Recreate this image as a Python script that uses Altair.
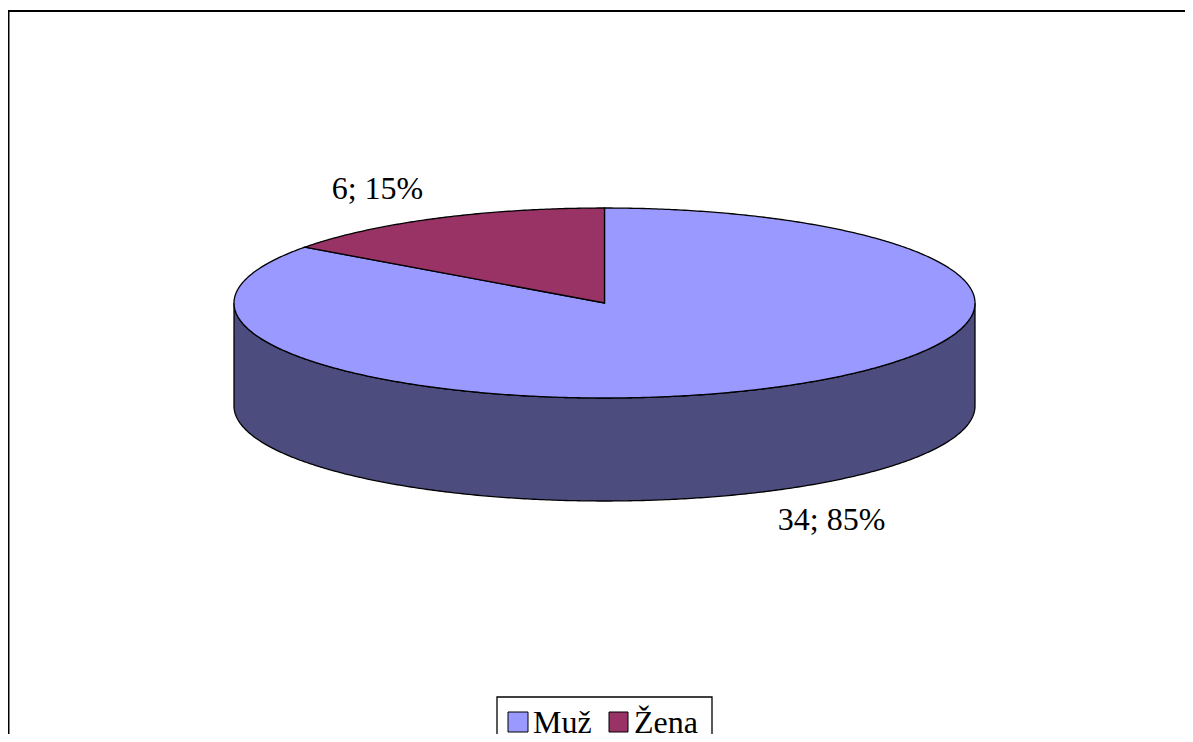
import numpy as np
import pandas as pd
import altair as alt

# ---- data ----
categories = ["Muž", "Žena"]
counts = [34, 6]
top_colors = ["#9999FF", "#993366"]
side_colors = ["#4C4C7F", "#4D1A33"]

# ---- layout (pixels in chart space) ----
W, H = 1177, 726
CX, CY, RX, RY, DEPTH = 596.5, 295.0, 370.5, 95.0, 103.0
LABEL_K = 1.35
FONT = "Liberation Serif"

total = sum(counts)


def ex(a, k=1.0):
    return CX + RX * k * np.sin(np.radians(a))


def ey(a, k=1.0):
    return CY - RY * k * np.cos(np.radians(a))


top_rows, side_rows, label_rows = [], [], []
start = 0.0
for cat, v, tc, sc in zip(categories, counts, top_colors, side_colors):
    sweep = v / total * 360.0
    a0, a1 = start, start + sweep
    angs = np.linspace(a0, a1, max(int(sweep * 2), 2) + 1)
    pts = [(CX, CY)] + [(ex(a), ey(a)) for a in angs]
    for j, (x, y) in enumerate(pts):
        top_rows.append({"cat": cat, "order": j, "x": x, "y": y})
    s0, s1 = max(a0, 90.0), min(a1, 270.0)
    if s1 > s0:
        sa = np.linspace(s0, s1, max(int((s1 - s0) * 2), 2) + 1)
        spts = [(ex(a), ey(a)) for a in sa] + [(ex(a), ey(a) + DEPTH) for a in sa[::-1]]
        for j, (x, y) in enumerate(spts):
            side_rows.append({"cat": cat, "order": j, "x": x, "y": y})
    mid = (a0 + a1) / 2
    lx, ly = ex(mid, LABEL_K), ey(mid, LABEL_K)
    if 90 < mid < 270:
        ly += DEPTH
    pct = round(v / total * 100)
    label_rows.append({"cat": cat, "x": lx, "y": ly, "text": f"{v}; {pct}%"})
    start = a1

top_df = pd.DataFrame(top_rows)
side_df = pd.DataFrame(side_rows)
label_df = pd.DataFrame(label_rows)

xs = alt.Scale(domain=[0, W], nice=False, zero=False)
ys = alt.Scale(domain=[H, 0], nice=False, zero=False)

side = alt.Chart(side_df).mark_line(
    interpolate="linear-closed", stroke="black", strokeWidth=1.3
).encode(
    x=alt.X("x:Q", scale=xs, axis=None),
    y=alt.Y("y:Q", scale=ys, axis=None),
    fill=alt.Fill("cat:N", scale=alt.Scale(domain=categories, range=side_colors), legend=None),
    detail="cat:N",
    order="order:Q",
)

top = alt.Chart(top_df).mark_line(
    interpolate="linear-closed", stroke="black", strokeWidth=1.3
).encode(
    x=alt.X("x:Q", scale=xs, axis=None),
    y=alt.Y("y:Q", scale=ys, axis=None),
    fill=alt.Fill("cat:N", scale=alt.Scale(domain=categories, range=top_colors), legend=None),
    detail="cat:N",
    order="order:Q",
)

labels = alt.Chart(label_df).mark_text(
    font=FONT, fontSize=32, color="black", align="center", baseline="middle"
).encode(
    x=alt.X("x:Q", scale=xs, axis=None),
    y=alt.Y("y:Q", scale=ys, axis=None),
    text="text:N",
)

# ---- manual legend ----
leg_box = pd.DataFrame({"x": [489], "x2": [704], "y": [689], "y2": [H + 20]})
legend_box = alt.Chart(leg_box).mark_rect(fill="white", stroke="black", strokeWidth=1.3).encode(
    x=alt.X("x:Q", scale=xs, axis=None), x2="x2:Q",
    y=alt.Y("y:Q", scale=ys, axis=None), y2="y2:Q",
)
sw = pd.DataFrame({
    "cat": categories,
    "x": [500, 601], "x2": [520, 620],
    "y": [704, 704], "y2": [724, 724],
    "tx": [525, 626], "ty": [725, 725],
})
swatches = alt.Chart(sw).mark_rect(stroke="black", strokeWidth=1).encode(
    x=alt.X("x:Q", scale=xs, axis=None), x2="x2:Q",
    y=alt.Y("y:Q", scale=ys, axis=None), y2="y2:Q",
    fill=alt.Fill("cat:N", scale=alt.Scale(domain=categories, range=top_colors), legend=None),
)
sw_text = alt.Chart(sw).mark_text(
    font=FONT, fontSize=32, color="black", align="left", baseline="alphabetic"
).encode(
    x=alt.X("tx:Q", scale=xs, axis=None),
    y=alt.Y("ty:Q", scale=ys, axis=None),
    text="cat:N",
)

# ---- frame lines ----
frame_left = alt.Chart(pd.DataFrame({"a": [0]})).mark_rule(color="black", strokeWidth=2).encode(
    x=alt.value(0.5), y=alt.value(3), y2=alt.value(H)
)
frame_top = alt.Chart(pd.DataFrame({"a": [0]})).mark_rule(color="black", strokeWidth=2).encode(
    x=alt.value(0), x2=alt.value(W), y=alt.value(3)
)

chart = alt.layer(
    frame_left, frame_top, side, top, labels, legend_box, swatches, sw_text
).resolve_scale(fill="independent").properties(
    width=W, height=H, padding=0, autosize=alt.AutoSizeParams(type="none"),
    background="white",
).configure_view(strokeWidth=0)

chart.save("out.html", embed_options={"renderer": "svg", "actions": False})
